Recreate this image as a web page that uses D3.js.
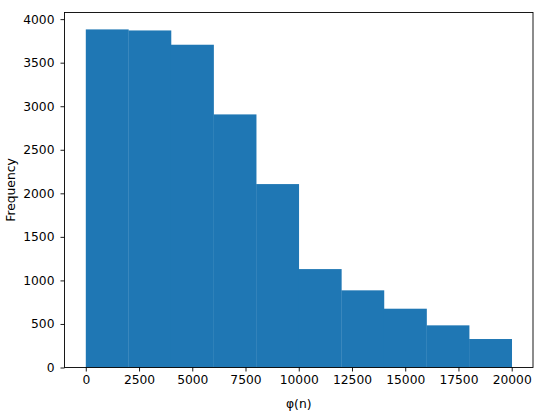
<!DOCTYPE html>
<html>
<head>
<meta charset="utf-8">
<script src="https://cdn.jsdelivr.net/npm/d3@7"></script>
<style>
  body { margin: 0; background: #fff; }
  svg text { font-family: "DejaVu Sans", sans-serif; fill: #000; }
</style>
</head>
<body>
<div id="chart"></div>
<script>
// histogram bins of φ(n): edges and counts
const binEdges = [0, 2000, 4000, 6000, 8000, 10000, 12000, 14000, 16000, 18000, 20000];
const counts = [3882, 3870, 3706, 2906, 2106, 1130, 886, 675, 484, 327];
const xTicks = [0, 2500, 5000, 7500, 10000, 12500, 15000, 17500, 20000];
const yTicks = [0, 500, 1000, 1500, 2000, 2500, 3000, 3500, 4000];

const width = 550, height = 416;
const margin = {left: 64.5, right: 17, top: 12.5, bottom: 48.5};

let svg = d3.select("#chart")
    .append("svg")
    .attr("width", width)
    .attr("height", height);

let bins = counts.map(function(c, i) {
    return {x0: binEdges[i], x1: binEdges[i + 1], count: c};
});

let x = d3.scaleLinear()
    .domain([-1000, 21000])
    .range([margin.left, width - margin.right]);

let y = d3.scaleLinear()
    .domain([0, d3.max(counts) * 1.05])
    .range([height - margin.bottom, margin.top]);

// bars
svg.append("g")
    .selectAll("rect")
    .data(bins)
    .enter()
    .append("rect")
    .attr("x", function(d) { return x(d.x0); })
    .attr("width", function(d) { return x(d.x1) - x(d.x0) + 0.3; })
    .attr("y", function(d) { return y(d.count); })
    .attr("height", function(d) { return y(0) - y(d.count); })
    .attr("fill", "#1f77b4");

// axes
let xAxis = svg.append("g")
    .attr("transform", `translate(0, ${height - margin.bottom})`)
    .call(d3.axisBottom(x).tickValues(xTicks).tickSize(4).tickPadding(4).tickFormat(d3.format("d")));

let yAxis = svg.append("g")
    .attr("transform", `translate(${margin.left}, 0)`)
    .call(d3.axisLeft(y).tickValues(yTicks).tickSize(4).tickPadding(6).tickFormat(d3.format("d")));

[xAxis, yAxis].forEach(function(a) {
    a.select(".domain").remove();
    a.selectAll(".tick line").attr("stroke", "#000").attr("stroke-width", 0.9);
    a.selectAll(".tick text").style("font-size", "12.3px").style("font-family", "DejaVu Sans");
});

// frame
svg.append("rect")
    .attr("x", margin.left)
    .attr("y", margin.top)
    .attr("width", width - margin.left - margin.right)
    .attr("height", height - margin.top - margin.bottom)
    .attr("fill", "none")
    .attr("stroke", "#000")
    .attr("stroke-width", 0.9);

// labels
svg.append("text")
    .attr("x", (margin.left + width - margin.right) / 2)
    .attr("y", 408)
    .style("text-anchor", "middle")
    .style("font-size", "12.3px")
    .text("φ(n)");

svg.append("text")
    .attr("transform", `translate(15, ${(margin.top + height - margin.bottom) / 2}) rotate(-90)`)
    .style("text-anchor", "middle")
    .style("font-size", "12.3px")
    .text("Frequency");
</script>
</body>
</html>
